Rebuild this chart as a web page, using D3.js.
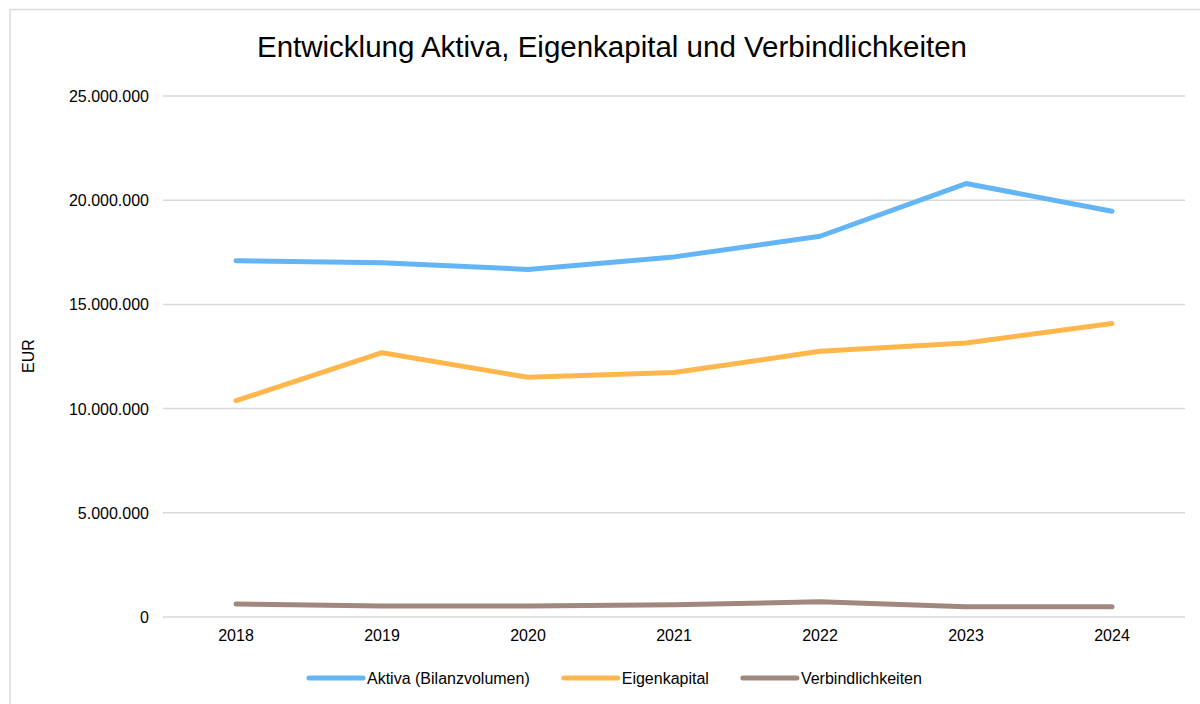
<!DOCTYPE html>
<html>
<head>
<meta charset="utf-8">
<script src="https://cdn.jsdelivr.net/npm/d3@7"></script>
<style>
  body { margin: 0; background: #fff; }
  text { font-family: "Liberation Sans", Arial, sans-serif; fill: #000; }
</style>
</head>
<body>
<div class="chart"></div>
<script>
const width = 1200, height = 704

// data
const years = ['2018', '2019', '2020', '2021', '2022', '2023', '2024']
const aktiva = [17100000, 17000000, 16680000, 17280000, 18270000, 20800000, 19470000]
const eigenkapital = [10380000, 12680000, 11500000, 11730000, 12750000, 13150000, 14080000]
const verbindlichkeiten = [620000, 530000, 530000, 590000, 730000, 490000, 490000]
const seriesNames = ['Aktiva (Bilanzvolumen)', 'Eigenkapital', 'Verbindlichkeiten']
const seriesColors = ['#64b5f6', '#ffb74d', '#a1887f']
const yTicks = [0, 5000000, 10000000, 15000000, 20000000, 25000000]

const series = [aktiva, eigenkapital, verbindlichkeiten]

const margin = { left: 163, right: 15, top: 96, bottom: 87 }

const svg = d3.select('.chart').append('svg')
    .attr('width', width)
    .attr('height', height)

// outer chart frame (cut off at right/bottom like the reference)
svg.append('rect')
    .attr('x', 10).attr('y', 9.5)
    .attr('width', 1300).attr('height', 800)
    .attr('fill', 'none')
    .attr('stroke', '#d9d9d9')
    .attr('stroke-width', 1.5)

const x = d3.scaleBand()
    .domain(years)
    .range([margin.left, width - margin.right])

const y = d3.scaleLinear()
    .domain([0, 25000000])
    .range([height - margin.bottom, margin.top])

const fmt = v => d3.format(',')(v).replace(/,/g, '.')

// gridlines
svg.append('g').attr('class', 'grid')
    .selectAll('line')
    .data(yTicks)
    .enter().append('line')
    .attr('x1', margin.left)
    .attr('x2', width - margin.right)
    .attr('y1', d => y(d))
    .attr('y2', d => y(d))
    .attr('stroke', '#d9d9d9')
    .attr('stroke-width', 1.5)

// y tick labels
svg.append('g').attr('class', 'y-labels')
    .selectAll('text')
    .data(yTicks)
    .enter().append('text')
    .attr('x', 149)
    .attr('y', d => y(d) + 6)
    .style('text-anchor', 'end')
    .style('font-size', '16px')
    .text(d => fmt(d))

// x tick labels
svg.append('g').attr('class', 'x-labels')
    .selectAll('text')
    .data(years)
    .enter().append('text')
    .attr('x', d => x(d) + x.bandwidth() / 2)
    .attr('y', 641)
    .style('text-anchor', 'middle')
    .style('font-size', '16px')
    .text(d => d)

// y axis title
svg.append('text')
    .attr('transform', 'translate(34,' + 356 + ') rotate(-90)')
    .style('text-anchor', 'middle')
    .style('font-size', '16px')
    .text('EUR')

// title
svg.append('text')
    .attr('x', 612)
    .attr('y', 57)
    .style('text-anchor', 'middle')
    .style('font-size', '29.5px')
    .text('Entwicklung Aktiva, Eigenkapital und Verbindlichkeiten')

// lines
const line = d3.line()
    .x((d, i) => x(years[i]) + x.bandwidth() / 2)
    .y(d => y(d))

svg.append('g').attr('class', 'lines')
    .selectAll('path')
    .data(series)
    .enter().append('path')
    .attr('d', d => line(d))
    .attr('fill', 'none')
    .attr('stroke', (d, i) => seriesColors[i])
    .attr('stroke-width', 5)
    .attr('stroke-linecap', 'round')
    .attr('stroke-linejoin', 'round')

// legend
const legend = svg.append('g').attr('class', 'legend')
let lx = 309
seriesNames.forEach((name, i) => {
    legend.append('line')
        .attr('x1', lx).attr('x2', lx + 54)
        .attr('y1', 678).attr('y2', 678)
        .attr('stroke', seriesColors[i])
        .attr('stroke-width', 5)
        .attr('stroke-linecap', 'round')
    const t = legend.append('text')
        .attr('x', lx + 58)
        .attr('y', 684)
        .style('font-size', '16px')
        .text(name)
    lx += 58 + t.node().getComputedTextLength() + 34
})
</script>
</body>
</html>
